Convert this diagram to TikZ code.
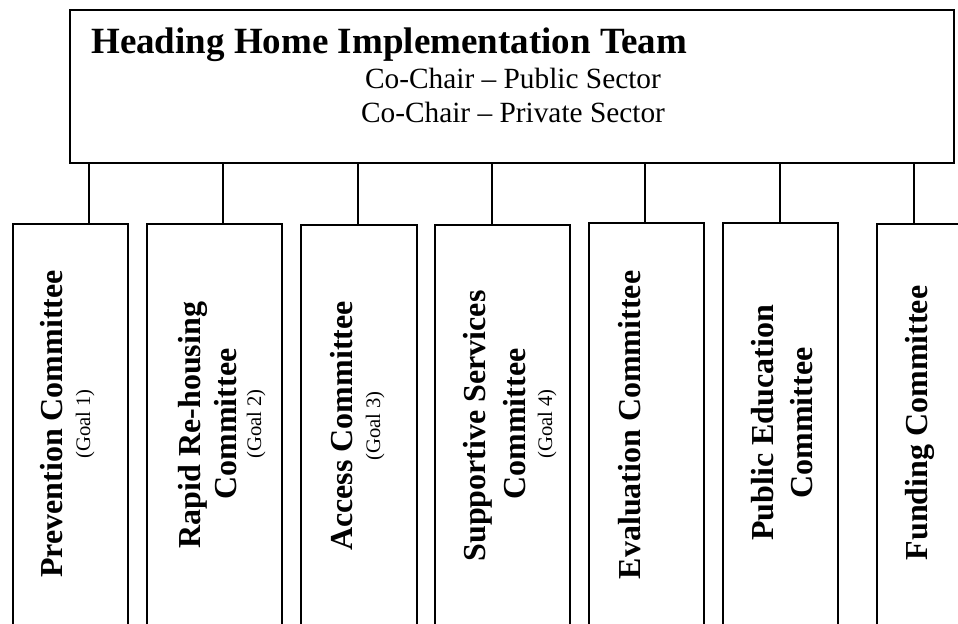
\documentclass[tikz,border=0pt]{standalone}
\usepackage{fontspec}
\setmainfont{Liberation Serif}
\begin{document}
\begin{tikzpicture}[x=0.75pt,y=-0.75pt,
  frame/.style={draw=black, line width=1.5pt, inner sep=0pt, anchor=north west},
  wire/.style={draw=black, line width=1.5pt},
  cname/.style={rotate=90, anchor=base, inner sep=0pt, font=\fontsize{24}{28}\selectfont\bfseries},
  goal/.style={rotate=90, anchor=base, inner sep=0pt, font=\fontsize{15.5}{18}\selectfont},
  chair/.style={anchor=base, inner sep=0pt, font=\fontsize{22}{26}\selectfont},
]
\path[use as bounding box, clip] (0,0) rectangle (958,624);

% team box
\node[frame, minimum width=884*0.75pt, minimum height=153*0.75pt] (team) at (69,9) {};
\node[anchor=base west, inner sep=0pt, font=\fontsize{27.75}{32}\selectfont\bfseries] (title) at (91,54) {Heading Home Implementation Team};
\node[chair] (chairA) at (513,89) {Co-Chair -- Public Sector};
\node[chair] (chairB) at (513,123) {Co-Chair -- Private Sector};

% committee boxes (they run past the lower edge)
\node[frame, minimum width=115*0.75pt, minimum height=410*0.75pt] (c1) at (12,223) {};
\node[frame, minimum width=135*0.75pt, minimum height=410*0.75pt] (c2) at (146,223) {};
\node[frame, minimum width=116*0.75pt, minimum height=410*0.75pt] (c3) at (300,224) {};
\node[frame, minimum width=135*0.75pt, minimum height=410*0.75pt] (c4) at (434,224) {};
\node[frame, minimum width=115*0.75pt, minimum height=410*0.75pt] (c5) at (588,222) {};
\node[frame, minimum width=115*0.75pt, minimum height=410*0.75pt] (c6) at (722,222) {};
\node[frame, minimum width=115*0.75pt, minimum height=410*0.75pt] (c7) at (876,223) {};

% connector feet on the committee boxes
\coordinate (k1) at (89,223);
\coordinate (k2) at (223,223);
\coordinate (k3) at (358,224);
\coordinate (k4) at (492,224);
\coordinate (k5) at (645,222);
\coordinate (k6) at (780,222);
\coordinate (k7) at (914,223);
\foreach \k in {k1,k2,k3,k4,k5,k6,k7}
  \draw[wire] (team.south -| \k) -- (\k);

% committee labels
\node[cname] (l1) at (62,424) {Prevention Committee};
\node[goal]  (g1) at (90,424) {(Goal 1)};

\node[cname] (l2a) at (200,425) {Rapid Re-housing};
\node[cname] (l2b) at (236,424) {Committee};
\node[goal]  (g2) at (261,424) {(Goal 2)};

\node[cname] (l3) at (352,426) {Access Committee};
\node[goal]  (g3) at (380,426) {(Goal 3)};

\node[cname] (l4a) at (485,426) {Supportive Services};
\node[cname] (l4b) at (525,424) {Committee};
\node[goal]  (g4) at (552,424) {(Goal 4)};

\node[cname] (l5) at (640,425) {Evaluation Committee};

\node[cname] (l6a) at (773,423) {Public Education};
\node[cname] (l6b) at (812,423) {Committee};

\node[cname] (l7) at (927,423) {Funding Committee};
\end{tikzpicture}
\end{document}
